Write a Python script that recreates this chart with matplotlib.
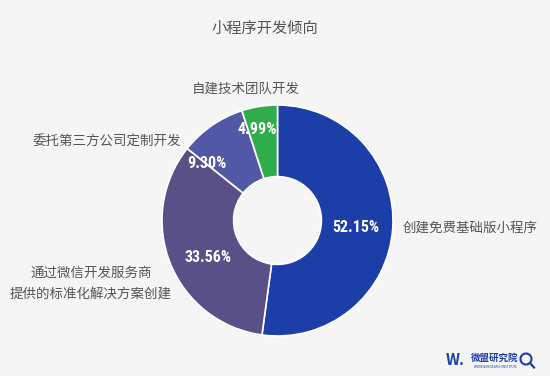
import matplotlib.pyplot as plt
from matplotlib.patches import Circle

plt.rcParams['font.family'] = ['Noto Sans CJK SC', 'DejaVu Sans']

# data
categories = ['创建免费基础版小程序', '通过微信开发服务商\n提供的标准化解决方案创建',
              '委托第三方公司定制开发', '自建技术团队开发']
shares = [52.15, 33.56, 9.30, 4.99]
colors = ['#1b3ea8', '#5a5088', '#5159a6', '#2fac4b']

W, H = 550, 376
fig = plt.figure(figsize=(W / 100, H / 100), dpi=100, facecolor='#f5f5f5')
ax = fig.add_axes([0, 0, 1, 1])

cx, cy, r = 277.5, H - 220.5, 115.5
ax.pie(shares, colors=colors, startangle=90, counterclock=False,
       center=(cx, cy), radius=r, frame=True,
       wedgeprops=dict(width=r * 0.62, edgecolor='white', linewidth=1.2))
ax.set_xlim(0, W)
ax.set_ylim(0, H)
ax.set_aspect('equal')
ax.axis('off')

# percent labels inside ring
pct_pos = [(356, 228), (208, 258), (207, 164), (257, 129)]
for v, (x, y) in zip(shares, pct_pos):
    ax.text(x, H - y, f'{v:.2f}%', color='white', fontsize=11.5, fontweight='bold',
            family=['Roboto Condensed', 'DejaVu Sans'], fontstretch='condensed',
            ha='center', va='center')

# category labels
grey = '#555555'
fs = 9.7
ax.text(403, H - 228, categories[0], color=grey, fontsize=fs, ha='left', va='center')
ax.text(91, H - 284, categories[1], color=grey, fontsize=fs, ha='center', va='center',
        linespacing=1.75)
ax.text(107, H - 142, categories[2], color=grey, fontsize=fs, ha='center', va='center')
ax.text(246, H - 89, categories[3], color=grey, fontsize=fs, ha='center', va='center')

ax.text(265, H - 28, '小程序开发倾向', color=grey, fontsize=11, ha='center', va='center')

# logo
blue = '#1b3ea8'
ax.text(455, H - 360, 'W.', color=blue, fontsize=11, fontweight='heavy',
        fontstyle='italic', ha='center', va='center')
ax.text(495, H - 358, '微盟研究院', color=blue, fontsize=6.8, fontweight='bold',
        ha='center', va='center')
ax.text(495, H - 367, 'WEIMOB RESEARCH INSTITUTE', color=blue, fontsize=2.2,
        ha='center', va='center')
ax.add_patch(Circle((526, H - 359), 5.5, fill=False, edgecolor=blue, linewidth=1.5))
ax.plot([530, 534], [H - 363, H - 367.5], color=blue, linewidth=1.6)

fig.savefig('out.png', dpi=100, facecolor=fig.get_facecolor())
